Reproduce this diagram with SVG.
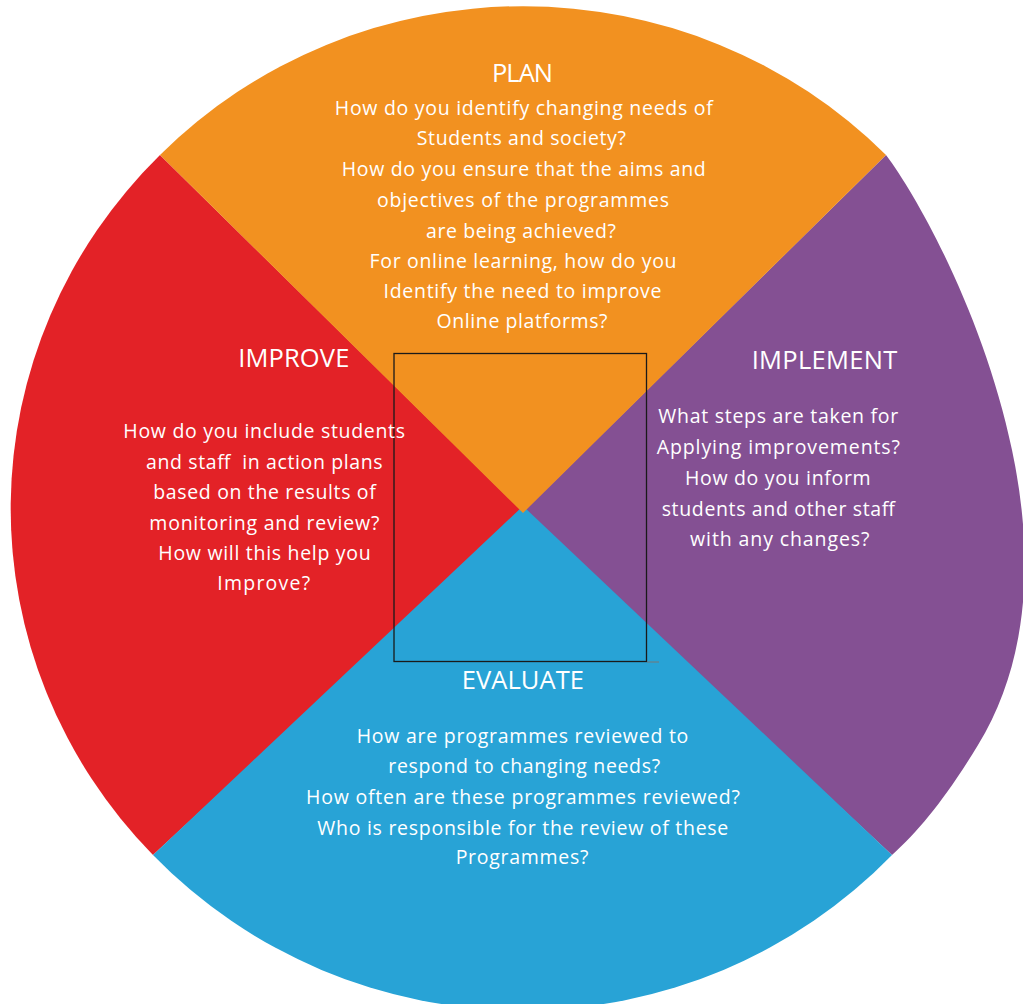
<svg xmlns="http://www.w3.org/2000/svg" width="1023" height="1004" viewBox="0 0 1023 1004">
  <style>
    text { font-family: "Open Sans", "Noto Sans", "DejaVu Sans", sans-serif; fill: #ffffff; text-anchor: middle; }
    .title { font-size: 25.5px; }
    .body { font-size: 19.5px; }
    .pre { white-space: pre; }
  </style>
  <rect x="0" y="0" width="1023" height="1004" fill="#ffffff"/>

  <!-- four quadrants of the cycle wheel; later wedges overlap earlier ones at the centre -->
  <g id="wheel">
    <path id="improve-wedge" d="M 523,512 L 153,855 A 510 500 0 0 1 160,155 Z" fill="#E32227"/>
    <path id="implement-wedge" d="M 523,512 L 886,155 C 920,200 985,320 1012,450 C 1034,554 1030,660 978,745 C 947,796 920,830 892,855 Z" fill="#845093"/>
    <path id="evaluate-wedge" d="M 523,506 L 892,855 A 510 500 0 0 1 153,855 Z" fill="#28A3D6"/>
    <path id="plan-wedge" d="M 523,513 L 160,155 A 510 500 0 0 1 886,155 Z" fill="#F29120"/>
  </g>

  <!-- central frame -->
  <g id="frame">
    <rect x="394" y="353.5" width="252.5" height="308" fill="none" stroke="#1a1a1a" stroke-width="1.3"/>
    <line x1="647" y1="662" x2="659" y2="662" stroke="#777777" stroke-width="1"/>
  </g>

  <g id="connectors"></g>

  <g id="plan">
    <text class="title" x="522.5" y="82" textLength="61">PLAN</text>
    <text class="body" x="523.8" y="115" textLength="378">How do you identify changing needs of</text>
    <text class="body" x="521.3" y="145" textLength="209">Students and society?</text>
    <text class="body" x="523.8" y="176" textLength="364">How do you ensure that the aims and</text>
    <text class="body" x="523" y="207" textLength="292">objectives of the programmes</text>
    <text class="body" x="521" y="238" textLength="190">are being achieved?</text>
    <text class="body" x="523" y="268" textLength="307">For online learning, how do you</text>
    <text class="body" x="522.5" y="298" textLength="278">Identify the need to improve</text>
    <text class="body" x="522" y="328" textLength="171">Online platforms?</text>
  </g>

  <g id="improve">
    <text class="title" x="293.8" y="367" textLength="111">IMPROVE</text>
    <text class="body" x="264.2" y="437.5" textLength="281.7">How do you include students</text>
    <text class="body pre" x="264.3" y="468.5" textLength="236.7">and staff  in action plans</text>
    <text class="body" x="264.5" y="499" textLength="222.4">based on the results of</text>
    <text class="body" x="264.3" y="529.5" textLength="230">monitoring and review?</text>
    <text class="body" x="264.5" y="560" textLength="212.4">How will this help you</text>
    <text class="body" x="263.7" y="590" textLength="92.7">Improve?</text>
  </g>

  <g id="implement">
    <text class="title" x="824.5" y="369.3" textLength="145.6">IMPLEMENT</text>
    <text class="body" x="778.3" y="423.3" textLength="240">What steps are taken for</text>
    <text class="body" x="778.3" y="454.3" textLength="243.3">Applying improvements?</text>
    <text class="body" x="777.8" y="485" textLength="185.7">How do you inform</text>
    <text class="body" x="778.3" y="516" textLength="233.3">students and other staff</text>
    <text class="body" x="779.7" y="546" textLength="179.3">with any changes?</text>
  </g>

  <g id="evaluate">
    <text class="title" x="522.8" y="689.3" textLength="122.3">EVALUATE</text>
    <text class="body" x="522.5" y="742.7" textLength="331.7">How are programmes reviewed to</text>
    <text class="body" x="524.2" y="773.3" textLength="271.7">respond to changing needs?</text>
    <text class="body" x="523" y="804" textLength="434">How often are these programmes reviewed?</text>
    <text class="body" x="522.8" y="835" textLength="411">Who is responsible for the review of these</text>
    <text class="body" x="522" y="864" textLength="132.7">Programmes?</text>
  </g>
</svg>
